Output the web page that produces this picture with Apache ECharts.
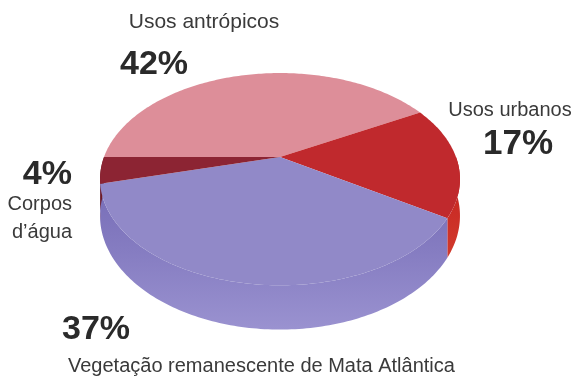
<!DOCTYPE html>
<html>
<head>
<meta charset="utf-8">
<script src="https://cdn.jsdelivr.net/npm/echarts@6/dist/echarts.min.js"></script>
<style>
  html, body { margin: 0; padding: 0; background: #fff; }
  #main { width: 575px; height: 378px; }
</style>
</head>
<body>
<div id="main"></div>
<script>
// dados
var categories = ['Usos antrópicos', 'Usos urbanos', 'Vegetação remanescente de Mata Atlântica', 'Corpos d’água'];
var values = [42, 17, 37, 4];
var topColors = ['#dd8e99', '#c0292d', '#9189c8', '#8c2433'];

var total = values.reduce(function (s, v) { return s + v; }, 0);

// geometria da "pizza" 3D (perspectiva simples)
var cx = 280, cy = 157, ra = 176, rb = 101.5, persp = 0.209, depth = 35;
var startDeg = 180;

function proj(deg, dy) {
  var t = deg * Math.PI / 180;
  var X = Math.cos(t), Z = Math.sin(t);
  var s = 1 / (1 - persp * Z);
  return [cx + ra * X * s, cy + rb * Z * s + dy * s];
}

function arc(a0, a1, dy) {
  var pts = [];
  var n = Math.max(2, Math.ceil(Math.abs(a1 - a0)));
  for (var j = 0; j <= n; j++) {
    pts.push(proj(a0 + (a1 - a0) * j / n, dy));
  }
  return pts;
}

function wallFill(i) {
  if (i === 2) {
    return { type: 'linear', x: 0, y: 0, x2: 0, y2: 1, colorStops: [
      { offset: 0, color: '#776db7' }, { offset: 0.45, color: '#857cc1' }, { offset: 1, color: '#9a92d0' }] };
  }
  if (i === 1) {
    return { type: 'linear', x: 0, y: 0, x2: 0, y2: 1, colorStops: [
      { offset: 0, color: '#c21f1f' }, { offset: 1, color: '#d23a2c' }] };
  }
  return i === 0 ? '#c9707c' : '#6e1b26';
}

function renderItem(params, api) {
  var i = params.dataIndex;
  var before = 0;
  for (var k = 0; k < i; k++) before += values[k];
  var a0 = startDeg + before / total * 360;
  var a1 = a0 + api.value(0) / total * 360;
  var children = [];

  // parede frontal (faixa visível entre 0° e 180°, também 360°-540°)
  [[0, 180], [360, 540]].forEach(function (r) {
    var w0 = Math.max(a0, r[0]), w1 = Math.min(a1, r[1]);
    if (w1 > w0) {
      var pts = arc(w0, w1, 0).concat(arc(w1, w0, depth));
      children.push({ type: 'polygon', z2: 1, shape: { points: pts }, style: { fill: wallFill(i) } });
    }
  });

  // face superior
  var top = [[cx, cy]].concat(arc(a0, a1, 0));
  children.push({ type: 'polygon', z2: 10, shape: { points: top }, style: { fill: topColors[i] } });

  return { type: 'group', children: children };
}

var font = '"Liberation Sans", Arial, sans-serif';
function txt(x, y, s, size, bold, align) {
  return {
    type: 'text', x: x, y: y,
    style: {
      text: s, fill: bold ? '#2a2a2a' : '#3a3a3a',
      font: (bold ? 'bold ' : '') + size + 'px ' + font,
      textAlign: align || 'left', textVerticalAlign: 'middle'
    }
  };
}

var chart = echarts.init(document.getElementById('main'));
chart.setOption({
  animation: false,
  series: [{
    type: 'custom',
    coordinateSystem: 'none',
    renderItem: renderItem,
    data: values.map(function (v, i) { return { name: categories[i], value: [v] }; })
  }],
  graphic: [
    txt(204, 22, categories[0], 21, false, 'center'),
    txt(120, 65, values[0] + '%', 34, true),
    txt(510, 110, categories[1], 20, false, 'center'),
    txt(518, 144, values[1] + '%', 35, true, 'center'),
    txt(72, 175, values[3] + '%', 34, true, 'right'),
    txt(72, 204, 'Corpos', 20, false, 'right'),
    txt(72, 232, 'd’água', 20, false, 'right'),
    txt(62, 330, values[2] + '%', 34, true),
    txt(68, 366, categories[2], 20, false)
  ]
});
</script>
</body>
</html>
